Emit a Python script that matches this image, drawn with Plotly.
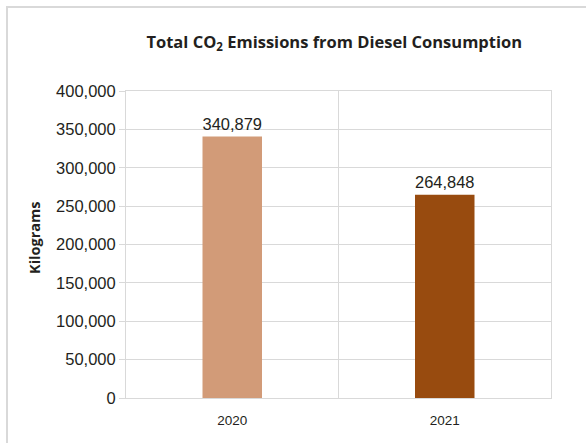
import plotly.graph_objects as go

years = ["2020", "2021"]
emissions = [340879, 264848]
bar_colors = ["#D29B78", "#984B0F"]
y_ticks = [0, 50000, 100000, 150000, 200000, 250000, 300000, 350000, 400000]

W, H = 586, 443
L, R, T, B = 126, 35, 91, 45
pw = W - L - R
ph = H - T - B

fig = go.Figure()
fig.add_trace(go.Bar(
    x=years, y=emissions,
    marker=dict(color=bar_colors, line=dict(width=0)),
    width=0.28,
    text=[f"{v:,}" for v in emissions],
    textposition="outside",
    textfont=dict(family="Liberation Sans, Arial", size=17, color="#231f20"),
    cliponaxis=False,
))

grid = "#d9d9d9"
shapes = [
    dict(type="line", xref="x", yref="paper", x0=0.5, x1=0.5, y0=0, y1=1,
         line=dict(color=grid, width=1), layer="below"),
    dict(type="rect", xref="paper", yref="paper",
         x0=(7 - L) / pw, x1=(W + 20 - L) / pw,
         y0=1 + (T - 7) / ph, y1=-(B + 20) / ph,
         line=dict(color="#d9d9d9", width=2), fillcolor="rgba(0,0,0,0)"),
]

fig.update_layout(
    width=W, height=H,
    margin=dict(l=L, r=R, t=T, b=B, autoexpand=False),
    paper_bgcolor="white", plot_bgcolor="white",
    showlegend=False,
    title=dict(
        text="Total CO<sub>2</sub> Emissions from Diesel Consumption",
        x=0.49, xref="paper", xanchor="center",
        y=1 - 42 / H, yanchor="middle",
        font=dict(family="Open Sans", size=16.5, color="#231f20", weight="bold"),
    ),
    shapes=shapes,
    annotations=[dict(
        text="Kilograms", textangle=-90, showarrow=False,
        xref="paper", yref="paper",
        x=(34 - L) / pw, y=1 - (238 - T) / ph,
        xanchor="center", yanchor="middle",
        font=dict(family="Open Sans", size=14.5, color="#231f20", weight="bold"),
    )],
)
fig.update_xaxes(
    type="category",
    showgrid=False,
    showline=True, linecolor=grid, linewidth=1, mirror=True,
    ticks="", tickfont=dict(family="Liberation Sans, Arial", size=13.5, color="#231f20"),
    ticklabelstandoff=10,
)
fig.update_yaxes(
    range=[0, 400000],
    tickvals=y_ticks,
    ticktext=[f"{v:,}" for v in y_ticks],
    showgrid=True, gridcolor=grid, gridwidth=1,
    showline=True, linecolor=grid, linewidth=1, mirror=True,
    zeroline=False,
    ticks="outside", ticklen=6, tickcolor=grid,
    tickfont=dict(family="Liberation Sans, Arial", size=16.5, color="#231f20"),
)

fig.write_html("out.html", config={"displayModeBar": False},
               post_script="document.body.style.margin='0';document.body.style.padding='0';")
